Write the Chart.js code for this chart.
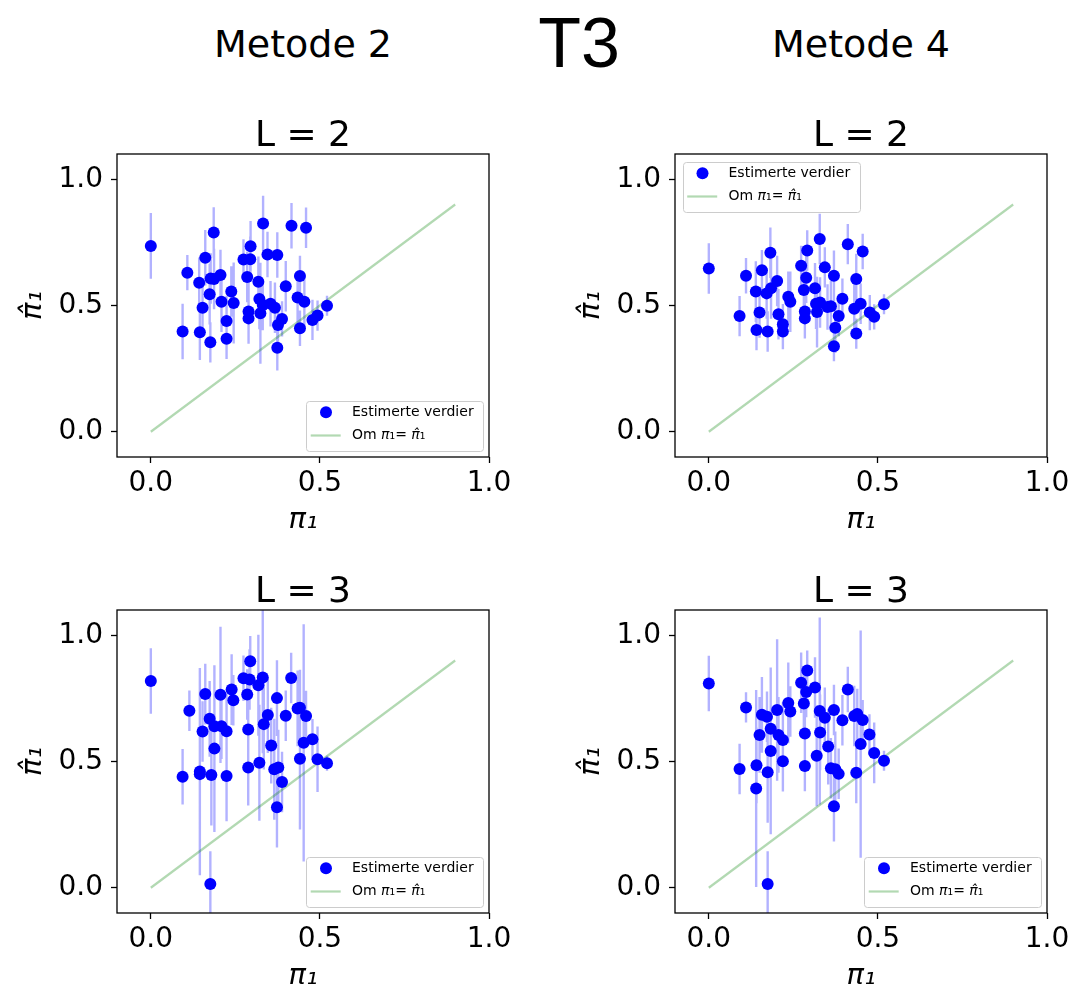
<!DOCTYPE html>
<html>
<head>
<meta charset="utf-8">
<script src="https://cdn.jsdelivr.net/npm/chart.js@4.4.0/dist/chart.umd.min.js"></script>
<style>
  html, body { margin: 0; padding: 0; background: #fff; width: 1073px; height: 991px; overflow: hidden; }
  .head { position: absolute; font-family: "DejaVu Sans"; color: #000; line-height: 1; white-space: nowrap; transform: translateX(-50%); }
  .panel { position: absolute; width: 529px; height: 513px; }
  .panel canvas { display: block; }
</style>
</head>
<body>
<div class="head" style="left:303px; top:25px; font-size:38px;">Metode 2</div>
<div class="head" style="left:579px; top:8px; font-size:70px; font-family:'Liberation Sans';">T3</div>
<div class="head" style="left:861px; top:25px; font-size:38px;">Metode 4</div>

<div class="panel" style="left:0px; top:44px;"><canvas id="c1" width="529" height="513"></canvas></div>
<div class="panel" style="left:558px; top:44px;"><canvas id="c2" width="529" height="513"></canvas></div>
<div class="panel" style="left:0px; top:500px;"><canvas id="c3" width="529" height="513"></canvas></div>
<div class="panel" style="left:558px; top:500px;"><canvas id="c4" width="529" height="513"></canvas></div>

<script>
// ---- Metode 2, L = 2 ----
const m2L2_x = [0.000, 0.094, 0.108, 0.143, 0.145, 0.153, 0.161, 0.174, 0.176, 0.177, 0.186, 0.187, 0.206, 0.209, 0.224, 0.224,
                0.238, 0.245, 0.274, 0.285, 0.289, 0.289, 0.294, 0.295, 0.318, 0.321, 0.324, 0.331, 0.332, 0.345, 0.354, 0.367,
                0.374, 0.374, 0.376, 0.388, 0.399, 0.416, 0.434, 0.441, 0.441, 0.454, 0.459, 0.478, 0.493, 0.521];
const m2L2_y = [0.736, 0.397, 0.630, 0.590, 0.394, 0.491, 0.689, 0.545, 0.354, 0.607, 0.789, 0.605, 0.621, 0.515, 0.439, 0.368,
                0.555, 0.510, 0.682, 0.613, 0.476, 0.449, 0.683, 0.735, 0.594, 0.526, 0.469, 0.502, 0.825, 0.702, 0.507, 0.491,
                0.700, 0.333, 0.423, 0.447, 0.576, 0.816, 0.532, 0.617, 0.410, 0.515, 0.808, 0.443, 0.460, 0.499];
const m2L2_err = [0.13, 0.11, 0.07, 0.10, 0.11, 0.10, 0.11, 0.12, 0.08, 0.10, 0.10, 0.12, 0.10, 0.12, 0.10, 0.08,
                  0.10, 0.16, 0.08, 0.10, 0.12, 0.10, 0.09, 0.10, 0.10, 0.12, 0.20, 0.10, 0.11, 0.09, 0.09, 0.10,
                  0.09, 0.09, 0.08, 0.07, 0.10, 0.09, 0.10, 0.08, 0.07, 0.10, 0.08, 0.08, 0.06, 0.04];

// ---- Metode 4, L = 2 ----
const m4L2_x = [0.000, 0.110, 0.157, 0.182, 0.139, 0.171, 0.184, 0.202, 0.091, 0.150, 0.141, 0.174, 0.206, 0.219, 0.219,
                0.235, 0.241, 0.273, 0.291, 0.288, 0.281, 0.314, 0.328, 0.343, 0.370, 0.411, 0.455, 0.436, 0.395, 0.284,
                0.284, 0.320, 0.317, 0.329, 0.351, 0.361, 0.384, 0.374, 0.370, 0.430, 0.449, 0.436, 0.476, 0.489, 0.518];
const m4L2_y = [0.647, 0.618, 0.640, 0.709, 0.555, 0.548, 0.568, 0.597, 0.458, 0.472, 0.403, 0.397, 0.465, 0.426, 0.397,
                0.535, 0.515, 0.657, 0.718, 0.610, 0.561, 0.568, 0.763, 0.651, 0.618, 0.743, 0.714, 0.605, 0.527, 0.476,
                0.449, 0.474, 0.507, 0.512, 0.494, 0.497, 0.458, 0.412, 0.339, 0.487, 0.507, 0.389, 0.472, 0.455, 0.505];
const m4L2_err = [0.10, 0.07, 0.08, 0.10, 0.12, 0.10, 0.12, 0.10, 0.08, 0.10, 0.08, 0.08, 0.10, 0.08, 0.07,
                  0.10, 0.12, 0.08, 0.08, 0.10, 0.10, 0.10, 0.10, 0.08, 0.10, 0.08, 0.07, 0.10, 0.08, 0.10,
                  0.08, 0.14, 0.10, 0.10, 0.09, 0.10, 0.08, 0.10, 0.06, 0.10, 0.08, 0.06, 0.07, 0.05, 0.04];

// ---- Metode 2, L = 3 ----
const m2L3_x = [0.000, 0.114, 0.161, 0.206, 0.239, 0.244, 0.274, 0.294, 0.292, 0.285, 0.318, 0.331, 0.415, 0.373, 0.174,
                0.153, 0.188, 0.209, 0.224, 0.188, 0.094, 0.145, 0.145, 0.179, 0.224, 0.176, 0.288, 0.288, 0.321, 0.334,
                0.346, 0.356, 0.365, 0.377, 0.388, 0.373, 0.399, 0.434, 0.441, 0.459, 0.452, 0.478, 0.441, 0.493, 0.521];
const m2L3_y = [0.819, 0.701, 0.767, 0.764, 0.785, 0.743, 0.830, 0.897, 0.825, 0.765, 0.802, 0.833, 0.831, 0.751, 0.669,
                0.619, 0.640, 0.640, 0.620, 0.551, 0.440, 0.460, 0.450, 0.447, 0.443, 0.015, 0.627, 0.476, 0.495, 0.648,
                0.684, 0.563, 0.469, 0.476, 0.419, 0.319, 0.681, 0.710, 0.713, 0.680, 0.574, 0.588, 0.511, 0.509, 0.493];
const m2L3_err = [0.13, 0.08, 0.12, 0.27, 0.14, 0.10, 0.09, 0.10, 0.12, 0.10, 0.20, 0.30, 0.10, 0.15, 0.15,
                  0.12, 0.18, 0.13, 0.15, 0.33, 0.11, 0.41, 0.18, 0.20, 0.18, 0.13, 0.10, 0.15, 0.23, 0.18,
                  0.15, 0.15, 0.20, 0.15, 0.12, 0.16, 0.10, 0.15, 0.15, 0.10, 0.47, 0.08, 0.28, 0.13, 0.03];

// ---- Metode 4, L = 3 ----
const m4L3_x = [0.000, 0.110, 0.157, 0.172, 0.202, 0.235, 0.241, 0.273, 0.291, 0.288, 0.281, 0.314, 0.328, 0.343, 0.370,
                0.411, 0.395, 0.430, 0.439, 0.455, 0.150, 0.183, 0.206, 0.219, 0.183, 0.219, 0.091, 0.141, 0.174, 0.140,
                0.174, 0.284, 0.284, 0.319, 0.329, 0.353, 0.361, 0.374, 0.384, 0.370, 0.475, 0.449, 0.436, 0.489, 0.518];
const m4L3_y = [0.809, 0.714, 0.685, 0.677, 0.704, 0.732, 0.698, 0.812, 0.860, 0.775, 0.730, 0.793, 0.700, 0.673, 0.704,
                0.785, 0.663, 0.680, 0.688, 0.664, 0.605, 0.630, 0.605, 0.585, 0.542, 0.501, 0.470, 0.485, 0.457, 0.393,
                0.015, 0.611, 0.482, 0.523, 0.615, 0.559, 0.473, 0.469, 0.451, 0.323, 0.607, 0.569, 0.455, 0.534, 0.503];
const m4L3_err = [0.11, 0.06, 0.15, 0.10, 0.28, 0.16, 0.10, 0.12, 0.08, 0.10, 0.12, 0.12, 0.37, 0.12, 0.10,
                  0.09, 0.10, 0.12, 0.10, 0.08, 0.15, 0.18, 0.15, 0.15, 0.33, 0.12, 0.10, 0.15, 0.20, 0.39,
                  0.13, 0.12, 0.10, 0.20, 0.15, 0.15, 0.12, 0.15, 0.10, 0.14, 0.08, 0.45, 0.12, 0.12, 0.04];

// reference line pi_1 = pi_hat_1
const diagX = [0.0, 0.9];
const diagY = [0.0, 0.9];

// axis ticks and limits
const xTicks = [0.0, 0.5, 1.0];
const yTicks = [0.0, 0.5, 1.0];
const xLimits = [-0.1, 1.0];
const yLimits = [-0.1, 1.1];

const FONT = 'DejaVu Sans';
const BLUE = '#0000ff';
const BAR_BLUE = 'rgba(0,0,255,0.3)';
const LINE_GREEN = 'rgba(0,128,0,0.3)';

// square frame around the plotting area
const framePlugin = {
  id: 'frame',
  afterDraw(chart) {
    const a = chart.chartArea, ctx = chart.ctx;
    ctx.save();
    ctx.strokeStyle = '#000';
    ctx.lineWidth = 1.3;
    ctx.strokeRect(a.left, a.top, a.right - a.left, a.bottom - a.top);
    ctx.restore();
  }
};

// subplot title centred over the plotting area
const panelTitlePlugin = {
  id: 'panelTitle',
  afterDraw(chart, args, opts) {
    const a = chart.chartArea, ctx = chart.ctx;
    ctx.save();
    ctx.fillStyle = '#000';
    ctx.font = '36px "' + FONT + '"';
    ctx.textAlign = 'center';
    ctx.textBaseline = 'alphabetic';
    ctx.fillText(opts.text, (a.left + a.right) / 2, a.top - 8);
    ctx.restore();
  }
};

// boxed legend placed inside a corner of the plotting area
const boxLegendPlugin = {
  id: 'boxLegend',
  afterDatasetsDraw(chart, args, opts) {
    const a = chart.chartArea, ctx = chart.ctx;
    const w = 177, h = 50;
    const bx = opts.corner === 'tl' ? a.left + 7.5 : a.right - 6 - w;
    const by = opts.corner === 'tl' ? a.top + 7.5 : a.bottom - 6.5 - h;
    const pts = chart.data.datasets[0];
    const diag = chart.data.datasets[1];
    ctx.save();
    ctx.beginPath();
    ctx.roundRect(Math.round(bx) + 0.5, Math.round(by) + 0.5, w, h, 3);
    ctx.fillStyle = 'rgba(255,255,255,0.8)';
    ctx.fill();
    ctx.strokeStyle = '#cccccc';
    ctx.lineWidth = 1;
    ctx.stroke();

    const row1 = by + 11.7, row2 = by + 35;
    // marker entry
    ctx.beginPath();
    ctx.arc(bx + 20, row1, pts.pointRadius, 0, Math.PI * 2);
    ctx.fillStyle = pts.backgroundColor;
    ctx.fill();
    // line entry
    ctx.beginPath();
    ctx.moveTo(bx + 4.7, row2);
    ctx.lineTo(bx + 34.7, row2);
    ctx.strokeStyle = diag.borderColor;
    ctx.lineWidth = diag.borderWidth;
    ctx.stroke();

    ctx.fillStyle = '#000';
    ctx.textBaseline = 'middle';
    ctx.textAlign = 'left';
    ctx.font = '14px "' + FONT + '"';
    ctx.fillText(pts.label, bx + 46, row1);

    const parts = [
      ['Om ', 'normal', 14], ['\u03C0', 'italic', 14], ['\u2081', 'normal', 14],
      ['= ', 'normal', 14], ['\u03C0\u0302', 'italic', 14], ['\u2081', 'normal', 14]
    ];
    let tx = bx + 46;
    for (const [s, st, sz] of parts) {
      ctx.font = (st === 'italic' ? 'italic ' : '') + sz + 'px "' + FONT + '"';
      ctx.fillText(s, tx, row2);
      tx += ctx.measureText(s).width;
    }
    ctx.restore();
  }
};

function errorSegments(xs, ys, es) {
  const out = [];
  xs.forEach((x, i) => {
    out.push({ x: x, y: ys[i] - es[i] });
    out.push({ x: x, y: ys[i] + es[i] });
    out.push({ x: x, y: null });
  });
  return out;
}

function makeChart(canvasId, xs, ys, es, title, corner) {
  const tickFont = { family: FONT, size: 28 };
  const gridCfg = { display: true, drawOnChartArea: false, drawTicks: true, tickLength: 6, tickWidth: 1.3, tickColor: '#000' };
  return new Chart(document.getElementById(canvasId), {
    type: 'scatter',
    data: {
      datasets: [
        {
          label: 'Estimerte verdier',
          data: xs.map((x, i) => ({ x: x, y: ys[i] })),
          backgroundColor: BLUE,
          borderWidth: 0,
          pointRadius: 6,
          order: 0
        },
        {
          label: 'Om \u03C0\u2081= \u03C0\u0302\u2081',
          data: diagX.map((x, i) => ({ x: x, y: diagY[i] })),
          showLine: true,
          borderColor: LINE_GREEN,
          borderWidth: 2.2,
          pointRadius: 0,
          order: 1
        },
        {
          label: 'usikkerhet',
          data: errorSegments(xs, ys, es),
          showLine: true,
          spanGaps: false,
          borderColor: BAR_BLUE,
          borderWidth: 2.4,
          pointRadius: 0,
          order: 2
        }
      ]
    },
    options: {
      responsive: false,
      animation: false,
      events: [],
      layout: { padding: { top: 110, right: 40, bottom: 0, left: 0 } },
      plugins: {
        legend: { display: false },
        tooltip: { enabled: false },
        title: { display: false },
        panelTitle: { text: title },
        boxLegend: { corner: corner }
      },
      scales: {
        x: {
          type: 'linear',
          min: xLimits[0],
          max: xLimits[1],
          afterBuildTicks: s => { s.ticks = xTicks.map(v => ({ value: v })); },
          afterFit: s => { s.height = 100; },
          grid: gridCfg,
          border: { display: false },
          ticks: { font: tickFont, color: '#000', padding: 4, maxRotation: 0, autoSkip: false,
                   callback: v => Number(v).toFixed(1) },
          title: { display: true, text: '\u03C0\u2081', color: '#000',
                   font: { family: FONT, size: 29, style: 'italic' }, padding: { top: 0, bottom: 19.6 } }
        },
        y: {
          type: 'linear',
          min: yLimits[0],
          max: yLimits[1],
          afterBuildTicks: s => { s.ticks = yTicks.map(v => ({ value: v })); },
          afterFit: s => { s.width = 117; },
          grid: gridCfg,
          border: { display: false },
          ticks: { font: tickFont, color: '#000', padding: 8, autoSkip: false,
                   callback: v => Number(v).toFixed(1) },
          title: { display: true, text: '\u03C0\u0302\u2081', color: '#000',
                   font: { family: FONT, size: 29, style: 'italic' }, padding: { top: 15.6, bottom: 0 } }
        }
      }
    },
    plugins: [framePlugin, panelTitlePlugin, boxLegendPlugin]
  });
}

makeChart('c1', m2L2_x, m2L2_y, m2L2_err, 'L = 2', 'br');
makeChart('c2', m4L2_x, m4L2_y, m4L2_err, 'L = 2', 'tl');
makeChart('c3', m2L3_x, m2L3_y, m2L3_err, 'L = 3', 'br');
makeChart('c4', m4L3_x, m4L3_y, m4L3_err, 'L = 3', 'br');
</script>
</body>
</html>
